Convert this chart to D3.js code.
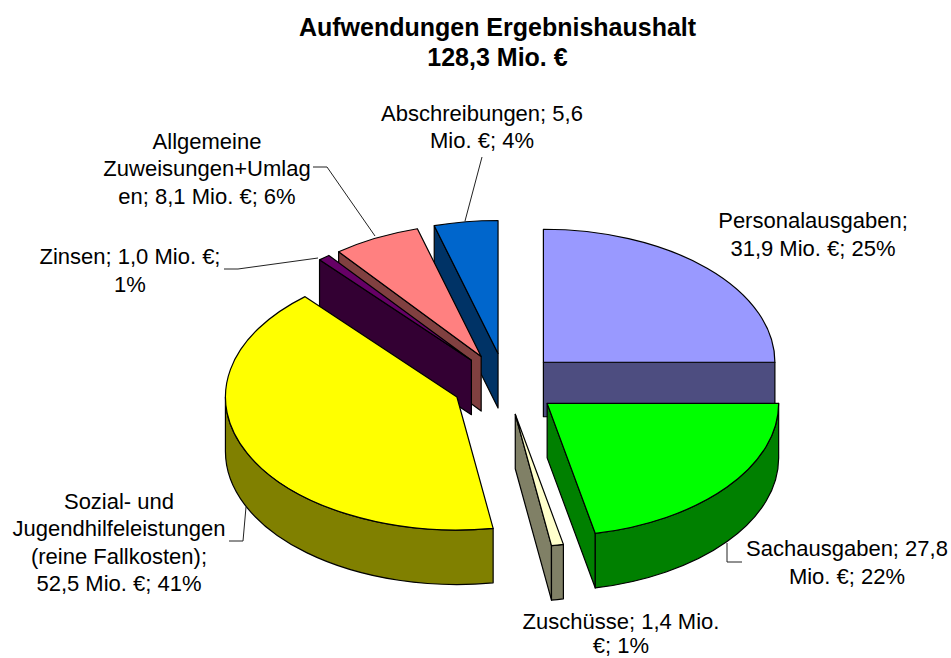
<!DOCTYPE html>
<html><head><meta charset="utf-8">
<script src="https://cdn.jsdelivr.net/npm/d3@7/dist/d3.min.js"></script>
<style>html,body{margin:0;background:#fff}svg{display:block}text{font-family:"Liberation Sans",Arial,sans-serif;fill:#000}</style>
</head><body><div id="c"></div>
<script>
const titleLines = ["Aufwendungen Ergebnishaushalt", "128,3 Mio. €"];
const categories = ["Personalausgaben","Sachausgaben","Zuschüsse","Sozial- und Jugendhilfeleistungen (reine Fallkosten)","Zinsen","Allgemeine Zuweisungen+Umlagen","Abschreibungen"];
const values = [31.9,27.8,1.4,52.5,1.0,8.1,5.6];
const topColors = ["#9999FF","#00FF00","#FFFFCC","#FFFF00","#660066","#FF8080","#0066CC"];
const sideColors = ["#4D4D80","#008000","#808066","#808000","#330033","#804040","#003366"];
const labelLines = [
 ["Personalausgaben;","31,9 Mio. €; 25%"],
 ["Sachausgaben; 27,8","Mio. €; 22%"],
 ["Zuschüsse; 1,4 Mio.","€; 1%"],
 ["Sozial- und","Jugendhilfeleistungen","(reine Fallkosten);","52,5 Mio. €; 41%"],
 ["Zinsen; 1,0 Mio. €;","1%"],
 ["Allgemeine","Zuweisungen+Umlag","en; 8,1 Mio. €; 6%"],
 ["Abschreibungen; 5,6","Mio. €; 4%"]
];
const labelAnchors = [[813,228],[847,556],[621,629],[119,508.5],[130,264],[207,148.5],[482,120.5]];
const labelLeading = [27.5,27.5,24,27.5,27.5,27.5,27.5];
const leaders = [null,[[727,543],[727,562],[742,562]],null,[[246,507],[243,541],[229,541]],[[318,258],[238,269],[224,269]],[[375,236],[327,167],[313,167]],[[465,221],[482,157]]];

const W=951,H=658,cx=505.5,cy=384,rx=231.5,ry=133,depth=54.5,explode=0.2315;
const drawOrder=[6,5,4,3,2,0,1];
const svg=d3.select("#c").append("svg").attr("width",W).attr("height",H);
// The source chart places slice edges on whole degrees
const deg=Math.PI/180, snap=a=>Math.round(a/deg)*deg;
const arcs=d3.pie().sort(null).value(d=>d)(values).map(d=>({...d,startAngle:snap(d.startAngle),endAngle:snap(d.endAngle)}));
const arcGen=d3.arc().innerRadius(0).outerRadius(rx);
const pt=(a,o,dy=0)=>[o[0]+rx*Math.sin(a),o[1]-ry*Math.cos(a)+dy];
const strokeAttrs=s=>s.attr("stroke","#000").attr("stroke-width",1.2).attr("stroke-linejoin","round");
const HALF=Math.PI/2, TH=3*Math.PI/2;

drawOrder.forEach(i=>{
  const d=arcs[i], a0=d.startAngle, a1=d.endAngle, mid=(a0+a1)/2;
  const o=[cx+explode*rx*Math.sin(mid), cy-explode*ry*Math.cos(mid)];
  const g=svg.append("g");
  const face=(a)=>{
    const p=pt(a,o),q=pt(a,o,depth);
    g.append("path").attr("d",`M${o}L${p}L${q}L${o[0]},${o[1]+depth}Z`).attr("fill",sideColors[i]).call(strokeAttrs);
  };
  if(Math.sin(a0)<-1e-6) face(a0);
  if(Math.sin(a1)>1e-6) face(a1);
  const w0=Math.max(a0,HALF), w1=Math.min(a1,TH);
  if(w1>w0){
    const p=pt(w0,o),q=pt(w1,o),r=pt(w1,o,depth),s=pt(w0,o,depth);
    g.append("path").attr("d",`M${p}A${rx},${ry} 0 0 1 ${q}L${r}A${rx},${ry} 0 0 0 ${s}Z`).attr("fill",sideColors[i]).call(strokeAttrs);
  }
  g.append("path").attr("transform",`translate(${o}) scale(1,${ry/rx})`).attr("d",arcGen(d)).attr("fill",topColors[i]).attr("vector-effect","non-scaling-stroke").call(strokeAttrs);
});

const line=d3.line();
leaders.forEach(l=>{ if(l) svg.append("path").attr("d",line(l)).attr("fill","none").attr("stroke","#222").attr("stroke-width",1); });

labelLines.forEach((ls,i)=>{
  svg.append("text").attr("text-anchor","middle").attr("font-size",22).selectAll("tspan").data(ls).join("tspan")
    .attr("x",labelAnchors[i][0]).attr("y",(d,j)=>labelAnchors[i][1]+j*labelLeading[i]).text(d=>d);
});
svg.append("text").attr("text-anchor","middle").attr("font-size",25).attr("font-weight","bold").selectAll("tspan").data(titleLines).join("tspan")
  .attr("x",497.5).attr("y",(d,j)=>35.5+j*30.5).text(d=>d);
</script></body></html>
